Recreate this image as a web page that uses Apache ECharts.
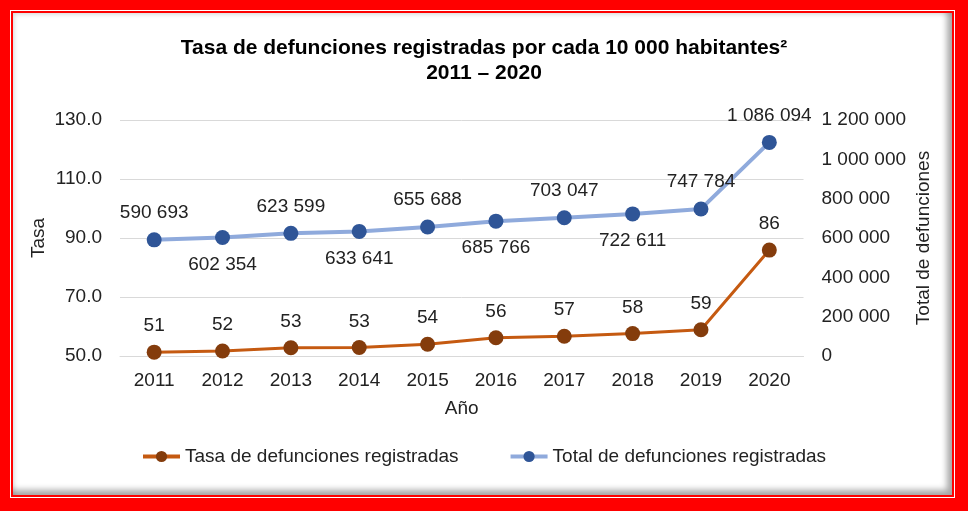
<!DOCTYPE html>
<html>
<head>
<meta charset="utf-8">
<script src="https://cdn.jsdelivr.net/npm/echarts@6/dist/echarts.min.js"></script>
<style>
  html, body { margin: 0; padding: 0; width: 968px; height: 511px; overflow: hidden; background: #ff0000; }
  #f1 { position: absolute; left: 10px; top: 10px; width: 945px; height: 488px; background: #ffffff; }
  #f2 { position: absolute; left: 11px; top: 11px; width: 943px; height: 486px; background: #ff0000; }
  #f3 { position: absolute; left: 13px; top: 13px; width: 939px; height: 482px; background: #ffffff;
        box-shadow: inset -5px -5px 6px rgba(0,0,0,0.35), inset 2px 2px 4px rgba(0,0,0,0.12); }
  #chart { position: absolute; left: 0; top: 0; width: 968px; height: 511px; z-index: 5; }
</style>
</head>
<body>
<div id="f1"></div><div id="f2"></div><div id="f3"></div>
<div id="chart"></div>
<script>
const years = ['2011','2012','2013','2014','2015','2016','2017','2018','2019','2020'];
const tasa = [51.3, 51.7, 52.8, 52.9, 54.0, 56.2, 56.7, 57.6, 58.9, 85.9];
const total = [590693, 602354, 623599, 633641, 655688, 685766, 703047, 722611, 747784, 1086094];
const leftTicks = [50, 70, 90, 110, 130];
const rightTicks = [0, 200000, 400000, 600000, 800000, 1000000, 1200000];

const FONT = '"Liberation Sans", Arial, sans-serif';
const TXT = '#222222';
const FS = 19;
function fmtThousands(v) {
  return String(Math.round(v)).replace(/\B(?=(\d{3})+(?!\d))/g, ' ');
}

const chart = echarts.init(document.getElementById('chart'), null, { renderer: 'canvas' });
chart.setOption({
  backgroundColor: 'transparent',
  animation: false,
  textStyle: { fontFamily: FONT },
  title: {
    text: 'Tasa de defunciones registradas por cada 10 000 habitantes²\n2011 – 2020',
    left: 'center',
    top: 31,
    textStyle: { fontFamily: FONT, fontSize: 21, fontWeight: 'bold', color: '#000', lineHeight: 25 }
  },
  legend: {
    left: 136,
    top: 442,
    itemWidth: 37,
    itemHeight: 14,
    itemGap: 50,
    lineStyle: { width: 4 },
    textStyle: { fontFamily: FONT, fontSize: FS, color: TXT },
    data: ['Tasa de defunciones registradas', 'Total de defunciones registradas']
  },
  grid: { left: 120, right: 164.5, top: 120, bottom: 155 },
  xAxis: {
    type: 'category',
    data: years,
    boundaryGap: true,
    name: 'Año',
    nameLocation: 'middle',
    nameGap: 43,
    nameTextStyle: { fontFamily: FONT, fontSize: FS, color: TXT },
    axisLine: { show: true, lineStyle: { color: '#d9d9d9', width: 1 } },
    axisTick: { show: false },
    axisLabel: { fontFamily: FONT, fontSize: FS, color: TXT, margin: 15 }
  },
  yAxis: [
    {
      type: 'value',
      min: leftTicks[0],
      max: leftTicks[leftTicks.length - 1],
      interval: 10,
      name: 'Tasa',
      nameLocation: 'middle',
      nameGap: 72,
      nameMoveOverlap: false,
      nameRotate: 90,
      nameTextStyle: { fontFamily: FONT, fontSize: FS, color: TXT },
      axisLine: { show: false },
      axisTick: { show: false },
      axisLabel: {
        fontFamily: FONT, fontSize: FS, color: TXT, margin: 18,
        formatter: function (v) { return leftTicks.indexOf(v) >= 0 ? v.toFixed(1) : ''; }
      },
      splitLine: { show: true, lineStyle: { color: ['#d9d9d9', 'rgba(0,0,0,0)'], width: 1 } }
    },
    {
      type: 'value',
      min: rightTicks[0],
      max: rightTicks[rightTicks.length - 1],
      interval: 200000,
      name: 'Total de defunciones',
      nameLocation: 'middle',
      nameGap: 111,
      nameMoveOverlap: false,
      nameRotate: 90,
      nameTextStyle: { fontFamily: FONT, fontSize: FS, color: TXT },
      axisLine: { show: false },
      axisTick: { show: false },
      splitLine: { show: false },
      axisLabel: {
        fontFamily: FONT, fontSize: FS, color: TXT, margin: 18, align: 'left',
        formatter: function (v) { return fmtThousands(v); }
      }
    }
  ],
  series: [
    {
      name: 'Tasa de defunciones registradas',
      type: 'line',
      yAxisIndex: 0,
      data: tasa,
      symbol: 'circle',
      symbolSize: 15,
      itemStyle: { color: '#843C0C' },
      lineStyle: { color: '#C55A11', width: 3 },
      label: {
        show: true, position: 'top', distance: 9,
        fontFamily: FONT, fontSize: FS, color: TXT,
        formatter: function (p) { return String(Math.round(p.value)); }
      },
      z: 3
    },
    {
      name: 'Total de defunciones registradas',
      type: 'line',
      yAxisIndex: 1,
      data: total.map(function (v, i) {
        return {
          value: v,
          label: { position: (i % 2 === 1 && i < total.length - 1) ? 'bottom' : 'top' }
        };
      }),
      symbol: 'circle',
      symbolSize: 15,
      itemStyle: { color: '#2F5597' },
      lineStyle: { color: '#8FAADC', width: 4 },
      label: {
        show: true, distance: 10,
        fontFamily: FONT, fontSize: FS, color: TXT,
        formatter: function (p) { return fmtThousands(p.value); }
      },
      z: 3
    }
  ]
});
</script>
</body>
</html>
